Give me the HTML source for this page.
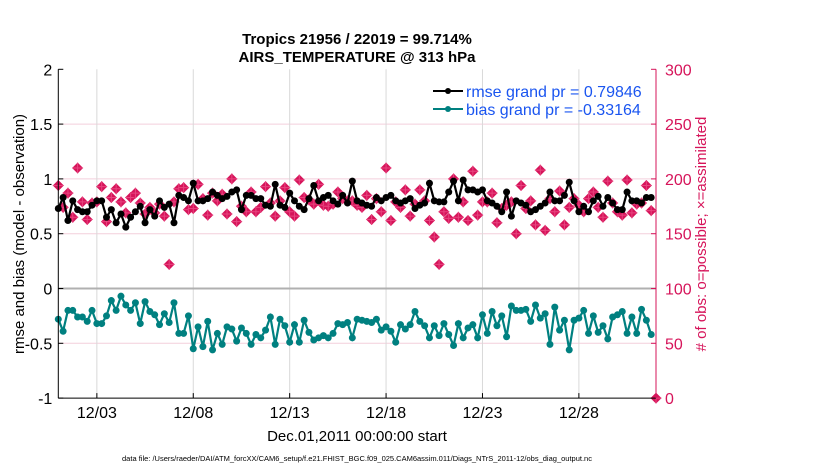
<!DOCTYPE html>
<html><head><meta charset="utf-8"><style>
body{margin:0;background:#fff;}
svg{display:block;font-family:"Liberation Sans",sans-serif;}
</style></head><body>
<svg id="chart" width="830" height="470" viewBox="0 0 830 470">
<g id="grid"></g>
<g id="marks"></g>
<g id="axes"></g>
<text x="357" y="44" text-anchor="middle" font-weight="bold" font-size="15">Tropics 21956 / 22019 = 99.714%</text>
<text x="357" y="62" text-anchor="middle" font-weight="bold" font-size="15">AIRS_TEMPERATURE @ 313 hPa</text>
<text transform="translate(24,234) rotate(-90)" text-anchor="middle" font-size="15">rmse and bias (model - observation)</text>
<text transform="translate(706,234) rotate(-90)" text-anchor="middle" font-size="15" fill="#d6145a">#  of obs: o=possible; ×=assimilated</text>
<text x="357" y="441" text-anchor="middle" font-size="15">Dec.01,2011 00:00:00 start</text>
<text x="357" y="461" text-anchor="middle" font-size="7.5">data file: /Users/raeder/DAI/ATM_forcXX/CAM6_setup/f.e21.FHIST_BGC.f09_025.CAM6assim.011/Diags_NTrS_2011-12/obs_diag_output.nc</text>
<g>
<line x1="433" y1="91" x2="463" y2="91" stroke="#000" stroke-width="2"/><circle cx="448" cy="91" r="3" fill="#000"/>
<text x="466" y="97" font-size="16" fill="#1a55f0">rmse grand pr = 0.79846</text>
<line x1="433" y1="109" x2="463" y2="109" stroke="#008080" stroke-width="2"/><circle cx="448" cy="109" r="3" fill="#008080"/>
<text x="466" y="115" font-size="16" fill="#1a55f0">bias grand pr = -0.33164</text>
</g>
</svg>
<script>
const rmse=[0.73,0.83,0.62,0.8,0.72,0.7,0.7,0.76,0.8,0.8,0.65,0.72,0.6,0.68,0.56,0.65,0.7,0.75,0.6,0.72,0.66,0.8,0.74,0.77,0.6,0.85,0.83,0.8,0.96,0.8,0.8,0.82,0.88,0.85,0.82,0.84,0.88,0.9,0.72,0.85,0.85,0.82,0.82,0.76,0.75,0.95,0.76,0.74,0.87,0.8,0.75,0.72,0.82,0.94,0.8,0.83,0.85,0.8,0.77,
0.85,0.78,0.98,0.8,0.78,0.76,0.75,0.83,0.8,0.83,0.85,0.8,0.78,0.8,0.82,0.73,0.76,0.78,0.96,0.8,0.79,0.79,0.88,0.98,0.8,0.99,0.9,0.9,0.88,0.9,0.8,0.78,0.75,0.7,0.88,0.66,0.8,0.78,0.76,0.7,0.72,0.75,0.78,0.88,0.8,0.8,0.85,0.97,0.8,0.7,0.75,0.7,0.8,0.84,0.75,0.83,0.78,0.72,0.72,0.88,0.8,0.8,0.78,0.83,0.83];
const bias=[-0.28,-0.39,-0.2,-0.2,-0.26,-0.26,-0.3,-0.2,-0.32,-0.32,-0.25,-0.11,-0.2,-0.07,-0.15,-0.2,-0.13,-0.32,-0.12,-0.21,-0.24,-0.33,-0.23,-0.31,-0.13,-0.41,-0.41,-0.25,-0.55,-0.35,-0.53,-0.3,-0.56,-0.41,-0.51,-0.35,-0.37,-0.48,-0.36,-0.41,-0.51,-0.42,-0.45,-0.38,-0.26,-0.51,-0.28,-0.34,-0.49,-0.33,-0.49,-0.29,-0.4,-0.47,-0.45,-0.43,-0.45,-0.41,-0.32,
-0.33,-0.31,-0.45,-0.28,-0.29,-0.3,-0.31,-0.28,-0.38,-0.35,-0.39,-0.49,-0.33,-0.37,-0.33,-0.21,-0.3,-0.34,-0.45,-0.34,-0.43,-0.32,-0.42,-0.52,-0.32,-0.45,-0.36,-0.33,-0.45,-0.24,-0.41,-0.21,-0.34,-0.25,-0.44,-0.16,-0.2,-0.2,-0.19,-0.3,-0.15,-0.27,-0.23,-0.51,-0.17,-0.38,-0.29,-0.56,-0.29,-0.27,-0.2,-0.41,-0.25,-0.4,-0.34,-0.46,-0.26,-0.24,-0.21,-0.41,-0.26,-0.41,-0.19,-0.29,-0.42];
const nobs=[194,174,187,165,210,179,163,178,179,193,161,183,191,179,169,183,187,178,168,174,169,177,166,122,179,191,192,172,173,195,182,167,187,180,186,168,200,161,175,170,188,170,174,193,178,166,180,192,170,166,199,183,181,177,195,176,175,177,188,
182,180,180,176,174,185,163,182,170,210,162,179,174,190,166,177,190,180,162,147,122,170,164,200,165,179,162,207,167,179,179,187,160,173,176,179,150,194,173,180,158,208,153,182,170,189,158,174,182,176,170,182,188,174,165,198,178,170,167,199,169,177,178,194,171];
const extraObs=[0];
const dayTicks=[2,7,12,17,22,27];
const dayLabels=["12/03","12/08","12/13","12/18","12/23","12/28"];
const yTicks=[2,1.5,1,0.5,0,-0.5,-1];
const yTickLabels=["2","1.5","1","0.5","0","-0.5","-1"];
const rTicks=[300,250,200,150,100,50,0];

const NS="http://www.w3.org/2000/svg";
const X0=58.3,X1=656,Y0=288.5,K=109.6;
const xs=d=>X0+(X1-X0)*d/31;
const ys=v=>Y0-K*v;
const yr=r=>ys(-1+r/100);
function mk(tag,attrs,parent){const e=document.createElementNS(NS,tag);for(const k in attrs)e.setAttribute(k,attrs[k]);parent.appendChild(e);return e;}
const grid=document.getElementById('grid'),marks=document.getElementById('marks'),axes=document.getElementById('axes');
const yTop=ys(2),yBot=ys(-1);
yTicks.forEach((v,i)=>{
  if(v!==0&&v!==2&&v!==-1){const l=mk('line',{x1:X0,x2:X1,y1:ys(v),y2:ys(v),stroke:'#f3cfdc','stroke-width':1},grid);
  
  }
  const t=mk('text',{x:X0-6,y:ys(v)+6,'text-anchor':'end','font-size':16},axes);t.textContent=yTickLabels[i];
  
  
  mk('line',{x1:X0,x2:X0+5,y1:ys(v),y2:ys(v),stroke:'#000'},axes);
});
rTicks.forEach(r=>{
  const t=mk('text',{x:X1+9,y:yr(r)+6,'font-size':16,fill:'#d6145a'},axes);t.textContent=r;
  
  
  mk('line',{x1:X1-5,x2:X1,y1:yr(r),y2:yr(r),stroke:'#d6145a'},axes);
});
dayTicks.forEach((d,i)=>{
  const g=mk('line',{x1:xs(d),x2:xs(d),y1:yTop,y2:yBot,stroke:'#d9d9d9'},grid);
  
  
  mk('line',{x1:xs(d),x2:xs(d),y1:yBot,y2:yBot-5,stroke:'#000'},axes);
  const t=mk('text',{x:xs(d),y:yBot+20,'text-anchor':'middle','font-size':16},axes);t.textContent=dayLabels[i];
  
  
});
const zl=mk('line',{x1:X0,x2:X1,y1:ys(0),y2:ys(0),stroke:'#b0b0b0','stroke-width':2},grid);


const ax1=mk('line',{x1:X0,x2:X0,y1:yTop,y2:yBot,stroke:'#000'},axes);


const ax2=mk('line',{x1:X0,x2:X1,y1:yBot,y2:yBot,stroke:'#000'},axes);


const ax3=mk('line',{x1:X1,x2:X1,y1:yTop,y2:yBot,stroke:'#d6145a'},axes);



function star(x,y){const s=5.5;
  const p=mk('polygon',{points:`${x},${y-s} ${x+s},${y} ${x},${y+s} ${x-s},${y}`,fill:'#d6145a'},marks);
  
  
  mk('path',{d:`M${x-s} ${y}H${x+s}M${x} ${y-s}V${y+s}`,stroke:'#e8447f','stroke-width':1},marks);
}
nobs.forEach((r,i)=>star(xs(i*0.25),yr(r)));
extraObs.forEach(r=>star(X1,yr(r)));
function line(arr,col,name){
  const pts=arr.map((v,i)=>xs(i*0.25).toFixed(1)+','+ys(v).toFixed(1)).join(' ');
  const pl=mk('polyline',{points:pts,fill:'none',stroke:col,'stroke-width':2.2},marks);
  
  
  arr.forEach((v,i)=>{const c=mk('circle',{cx:xs(i*0.25),cy:ys(v),r:3.5,fill:col},marks);
    
    });
}
line(rmse,'#000','rmse');
line(bias,'#008080','bias');
</script>
</body></html>
